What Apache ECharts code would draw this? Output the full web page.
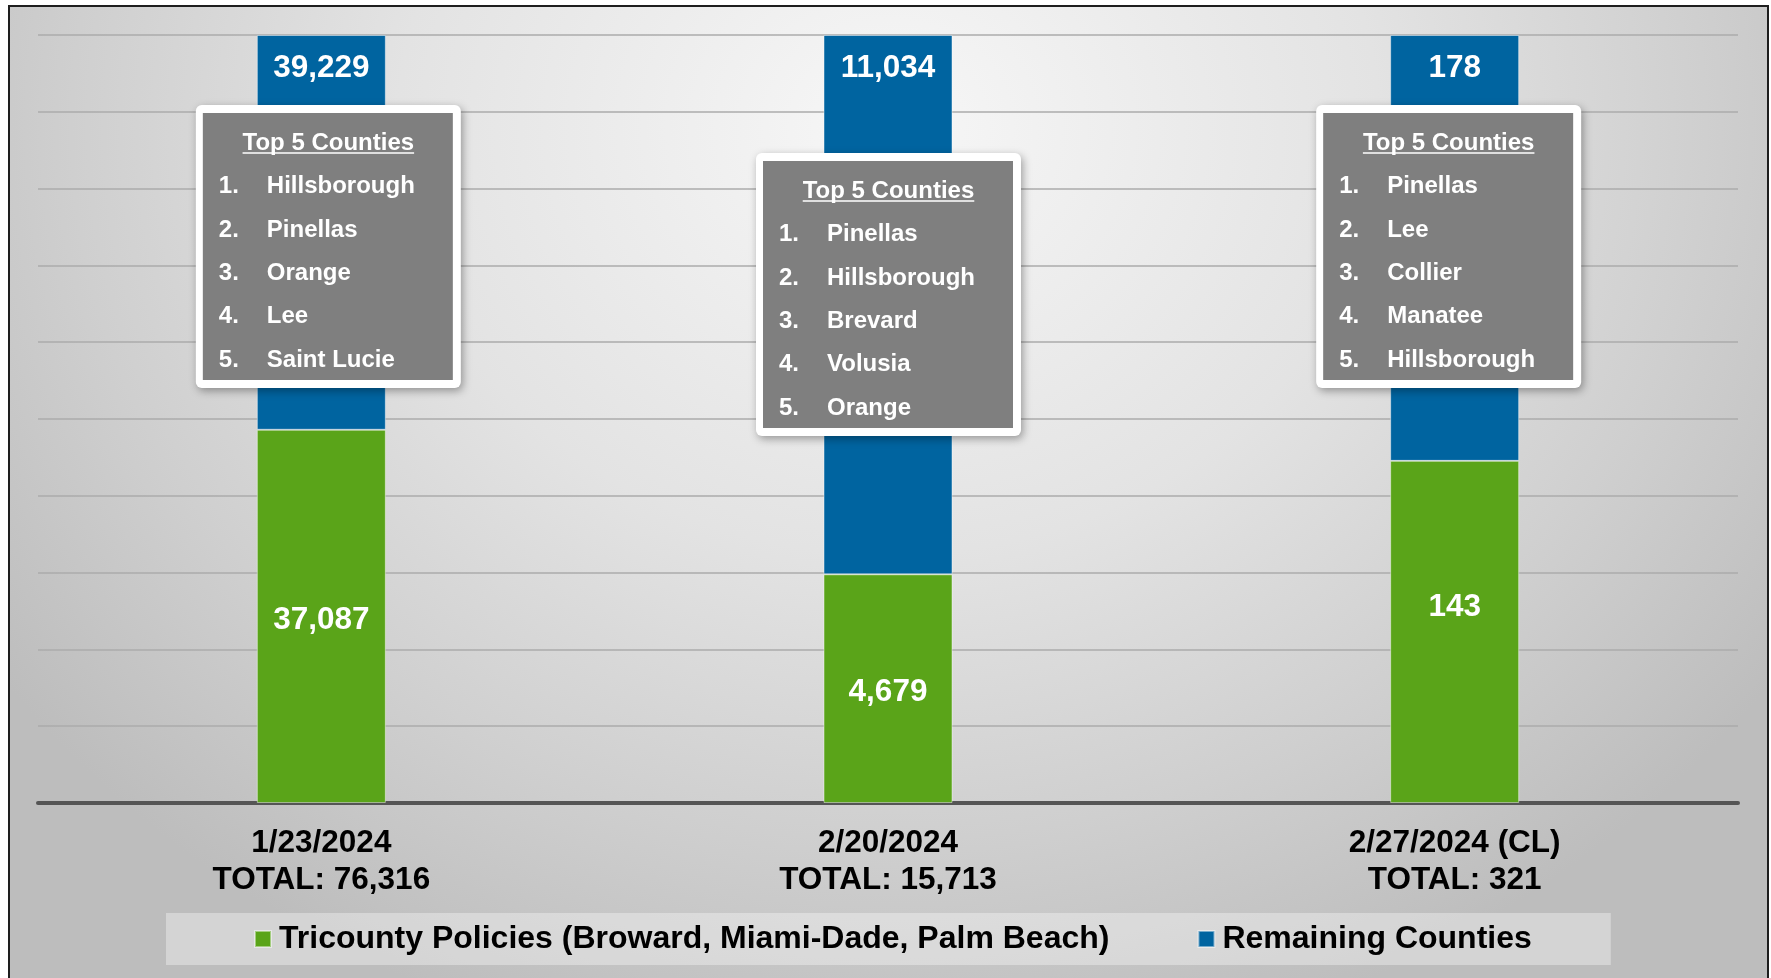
<!DOCTYPE html>
<html>
<head>
<meta charset="utf-8">
<script src="https://cdn.jsdelivr.net/npm/echarts@6/dist/echarts.min.js"></script>
<style>
  html, body { margin: 0; padding: 0; background: #ffffff; width: 1771px; height: 978px; overflow: hidden; }
  #frame {
    position: absolute; left: 8px; top: 5px; width: 1757px; height: 1000px;
    border: 2px solid #1e1e1e;
    background: radial-gradient(ellipse 62% 95% at 50% 12%, #f7f7f7 0%, #e3e3e3 45%, #cfcfcf 75%, #bdbdbd 100%);
  }
  #chart { position: absolute; left: 0; top: 0; width: 1771px; height: 978px; }
</style>
</head>
<body>
<div id="frame"></div>
<div id="chart"></div>
<script>
// ---- data ----
const categories = ['1/23/2024', '2/20/2024', '2/27/2024 (CL)'];
const tricounty = [37087, 4679, 143];
const remaining = [39229, 11034, 178];
const seriesNames = ['Tricounty Policies (Broward, Miami-Dade, Palm Beach)', 'Remaining Counties'];
const boxTitle = 'Top 5 Counties';
const topCounties1 = ['Hillsborough', 'Pinellas', 'Orange', 'Lee', 'Saint Lucie'];
const topCounties2 = ['Pinellas', 'Hillsborough', 'Brevard', 'Volusia', 'Orange'];
const topCounties3 = ['Pinellas', 'Lee', 'Collier', 'Manatee', 'Hillsborough'];
const yMax = 100, yInterval = 10;

// ---- derived ----
const totals = categories.map((c, i) => tricounty[i] + remaining[i]);
const greenPct = totals.map((t, i) => tricounty[i] / t * 100);
const bluePct = totals.map((t, i) => remaining[i] / t * 100);
const fmt = v => v.toLocaleString('en-US');
const FONT = '"Liberation Sans", Arial, Helvetica, sans-serif';
const GREEN = '#5AA419', BLUE = '#0064A0';

const chart = echarts.init(document.getElementById('chart'), null, { renderer: 'canvas' });

const option = {
  backgroundColor: 'transparent',
  animation: false,
  grid: { left: 38, right: 33, top: 35, bottom: 175, containLabel: false },
  legend: {
    left: 166, top: 913,
    padding: [10, 79, 10, 88],
    backgroundColor: 'rgba(255,255,255,0.35)',
    itemWidth: 16, itemHeight: 16, itemGap: 88,
    icon: 'rect',
    textStyle: { fontFamily: FONT, fontWeight: 'bold', fontSize: 32, color: '#000', padding: [0, 0, 0, 3] },
    data: seriesNames
  },
  xAxis: {
    type: 'category',
    data: categories,
    axisLine: { show: true, lineStyle: { color: '#555555', width: 4 } },
    axisTick: { show: false },
    axisLabel: {
      margin: 22,
      fontFamily: FONT, fontWeight: 'bold', fontSize: 31.5, color: '#000', lineHeight: 37,
      formatter: (v, i) => v + '\nTOTAL: ' + fmt(totals[i])
    }
  },
  yAxis: {
    type: 'value', min: 0, max: yMax, interval: yInterval,
    axisLabel: { show: false }, axisLine: { show: false }, axisTick: { show: false },
    splitLine: { show: true, lineStyle: { color: '#ababab', width: 1.5 } }
  },
  series: [
    {
      name: seriesNames[0], type: 'bar', stack: 'total', barWidth: 129,
      itemStyle: { color: GREEN, borderColor: 'rgba(255,255,255,0.45)', borderWidth: 1 },
      label: {
        show: true, position: 'inside', offset: [0, 4], color: '#fff', fontFamily: FONT, fontWeight: 'bold', fontSize: 31.5, lineHeight: 32,
        formatter: p => fmt(tricounty[p.dataIndex])
      },
      data: greenPct.map((v, i) => i === 2 ? { value: v, label: { offset: [0, -25] } } : v)
    },
    {
      name: seriesNames[1], type: 'bar', stack: 'total', barWidth: 129,
      itemStyle: { color: BLUE, borderColor: 'rgba(255,255,255,0.45)', borderWidth: 1 },
      label: {
        show: true, position: 'insideTop', distance: 17.5, color: '#fff', fontFamily: FONT, fontWeight: 'bold', fontSize: 31.5, lineHeight: 32,
        formatter: p => fmt(remaining[p.dataIndex])
      },
      data: bluePct
    }
  ]
};
chart.setOption(option);

// ---- annotation boxes ----
const lists = [topCounties1, topCounties2, topCounties3];
const boxTops = [105, 153, 105];
const boxDx = [7, 0.5, -6];
const mctx = document.createElement('canvas').getContext('2d');
mctx.font = 'bold 24px ' + FONT;
const titleW = mctx.measureText(boxTitle).width;

const graphics = [];
lists.forEach((items, i) => {
  const cx = chart.convertToPixel({ xAxisIndex: 0 }, i) + boxDx[i];
  const w = 265, h = 283, top = boxTops[i], left = cx - w / 2;
  graphics.push({
    type: 'rect', z: 100,
    shape: { x: left, y: top, width: w, height: h, r: 6 },
    style: { fill: '#ffffff', shadowBlur: 8, shadowOffsetX: 2, shadowOffsetY: 3, shadowColor: 'rgba(0,0,0,0.35)' }
  });
  graphics.push({
    type: 'rect', z: 101,
    shape: { x: left + 7, y: top + 8, width: w - 15, height: h - 16 },
    style: { fill: '#7f7f7f' }
  });
  graphics.push({
    type: 'text', z: 102, x: cx, y: top + 38.5,
    style: { text: boxTitle, fill: '#fff', font: 'bold 24px ' + FONT, textAlign: 'center', textVerticalAlign: 'middle', align: 'center', verticalAlign: 'middle' }
  });
  graphics.push({
    type: 'line', z: 102,
    shape: { x1: cx - titleW / 2, y1: top + 48, x2: cx + titleW / 2, y2: top + 48 },
    style: { stroke: '#fff', lineWidth: 1.5 }
  });
  items.forEach((name, k) => {
    const y = top + 81.5 + k * 43.4;
    graphics.push({
      type: 'text', z: 102, x: left + 23, y: y,
      style: { text: (k + 1) + '.', fill: '#fff', font: 'bold 24px ' + FONT, textAlign: 'left', textVerticalAlign: 'middle', align: 'left', verticalAlign: 'middle' }
    });
    graphics.push({
      type: 'text', z: 102, x: left + 71, y: y,
      style: { text: name, fill: '#fff', font: 'bold 24px ' + FONT, textAlign: 'left', textVerticalAlign: 'middle', align: 'left', verticalAlign: 'middle' }
    });
  });
});
chart.setOption({ graphic: graphics });
</script>
</body>
</html>
